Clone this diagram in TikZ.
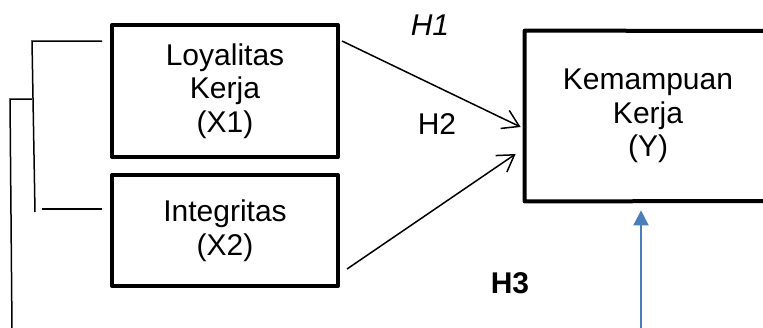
\documentclass[tikz,border=0pt]{standalone}
\usepackage{fontspec}
\setmainfont{Liberation Sans}
\usetikzlibrary{arrows.meta,calc}
\definecolor{biru}{HTML}{4A7EBB}
\tikzset{
  kotak/.style={draw,line width=2pt,line join=round,align=center,inner sep=0pt,
    font=\fontsize{15}{16.8}\selectfont},
  panah/.style={-{Straight Barb[length=8pt,width=10pt]},line width=0.75pt},
  garis/.style={line width=0.75pt},
  teks/.style={font=\fontsize{15}{16.8}\selectfont}
}
\begin{document}
\begin{tikzpicture}[x=0.5pt,y=-0.5pt]
\fill[white] (0,0) rectangle (763,327);
\useasboundingbox (0,0) rectangle (763,327);
\clip (0,0) rectangle (763,327);
% variabel
\node[kotak,minimum width=113pt,minimum height=66pt] (x1) at (225,91) {Loyalitas\\Kerja\\(X1)};
\node[kotak,minimum width=113pt,minimum height=55.5pt] (x2) at (225,230.5) {Integritas\\(X2)};
\node[teks,align=center,inner sep=0pt,minimum width=123pt,minimum height=85pt] (y) at (648,116) {Kemampuan\\Kerja\\(Y)};
\coordinate (y1) at (800,31);
\coordinate (y2) at (800,201);
\draw[line width=2pt,line join=round] (y1) -- (y.north west) -- (y.south west) -- (y2); % sisi kanan terpotong
% hipotesis
\node[teks,font=\fontsize{15}{16.8}\selectfont\itshape] (h1) at (430,25) {H1};
\node[teks] (h2) at (437,124) {H2};
\node[teks,font=\fontsize{15}{16.8}\selectfont\bfseries] (h3) at (510,283) {H3};
% panah
\draw[panah] ($(x1.north east)+(2,18)$) -- ($(y.west)+(-4,11)$);
\draw[panah] ($(x2.south east)+(7,-19)$) -- ($(y.west)+(-9,38)$);
\coordinate (b0) at (641,330);
\draw[biru,line width=1pt,-{Triangle[length=7.5pt,width=7.5pt]}] (b0) -- ($(y.south)+(-7,9)$);
% garis kiri
\coordinate (k1) at (102,41);
\coordinate (k2) at (32,41);
\coordinate (k3) at (35,212);
\coordinate (k4) at (42,209);
\coordinate (k5) at (102,209);
\coordinate (k6) at (32,99);
\coordinate (k7) at (10,99);
\coordinate (k8) at (12,330);
\draw[garis] (k1) -- (k2) -- (k3);
\draw[garis] (k4) -- (k5);
\draw[garis] (k6) -- (k7) -- (k8);
\end{tikzpicture}
\end{document}
